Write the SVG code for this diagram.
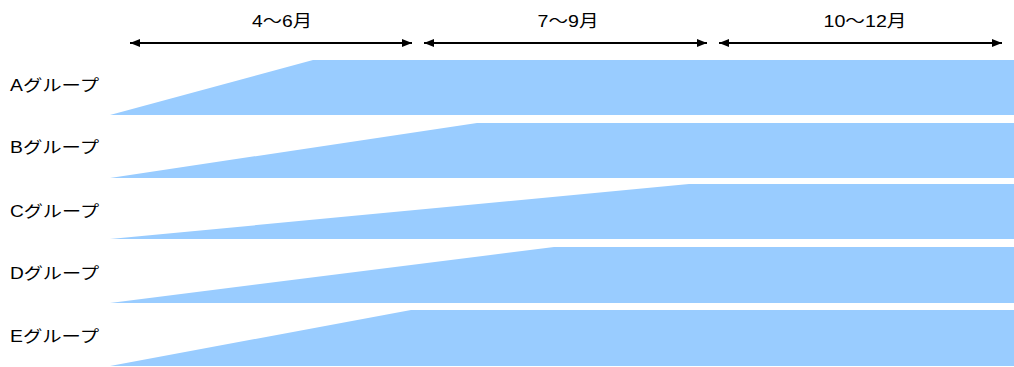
<svg xmlns="http://www.w3.org/2000/svg" width="1014" height="367" viewBox="0 0 1014 367">
<style>
.band{fill:#99CCFF;stroke:none}
.lbl{font-family:"Liberation Sans","Noto Sans CJK JP",sans-serif;font-size:16px;fill:#000}
.hdr{font-family:"Liberation Sans","Noto Sans CJK JP",sans-serif;font-size:16.5px;fill:#000;text-anchor:middle}
.arr{stroke:#000;stroke-width:2;fill:none;marker-start:url(#ah);marker-end:url(#ah)}
</style>
<defs>
<marker id="ah" viewBox="0 0 10 8" refX="10" refY="4" markerWidth="5" markerHeight="4" orient="auto-start-reverse" markerUnits="strokeWidth">
<path d="M0,0 L10,4 L0,8 z" fill="#000"/>
</marker>
</defs>
<rect width="1014" height="367" fill="#fff"/>
<g id="connectors">
<line class="arr" x1="130" y1="43" x2="412" y2="43"/>
<line class="arr" x1="424" y1="43" x2="707" y2="43"/>
<line class="arr" x1="719" y1="43" x2="1002" y2="43"/>
</g>
<g id="headers">
<text class="hdr" x="282" y="27" textLength="60" lengthAdjust="spacingAndGlyphs">4〜6月</text>
<text class="hdr" x="568" y="27" textLength="61" lengthAdjust="spacingAndGlyphs">7〜9月</text>
<text class="hdr" x="865" y="27" textLength="83" lengthAdjust="spacingAndGlyphs">10〜12月</text>
</g>
<g id="groupA">
<polygon class="band" points="110,115 313,60 1014,60 1014,115"/>
<text class="lbl" x="10" y="91" textLength="89" lengthAdjust="spacingAndGlyphs">Aグループ</text>
</g>
<g id="groupB">
<polygon class="band" points="110,178 477,123 1014,123 1014,178"/>
<text class="lbl" x="10" y="153" textLength="89" lengthAdjust="spacingAndGlyphs">Bグループ</text>
</g>
<g id="groupC">
<polygon class="band" points="110,239 689,184 1014,184 1014,239"/>
<text class="lbl" x="10" y="217" textLength="89" lengthAdjust="spacingAndGlyphs">Cグループ</text>
</g>
<g id="groupD">
<polygon class="band" points="110,303 554,247 1014,247 1014,303"/>
<text class="lbl" x="10" y="279" textLength="89" lengthAdjust="spacingAndGlyphs">Dグループ</text>
</g>
<g id="groupE">
<polygon class="band" points="110,366 411,310 1014,310 1014,366"/>
<text class="lbl" x="10" y="342" textLength="89" lengthAdjust="spacingAndGlyphs">Eグループ</text>
</g>
</svg>
